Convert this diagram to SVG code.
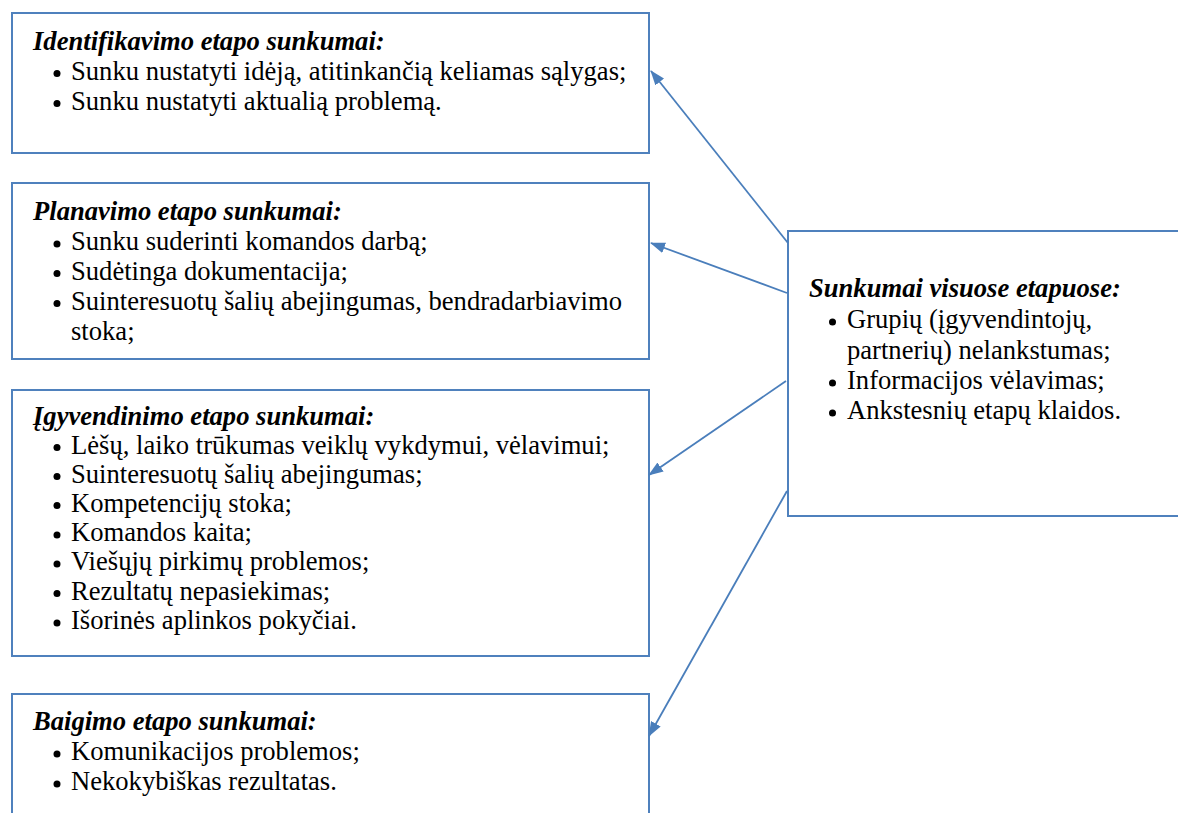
<svg xmlns="http://www.w3.org/2000/svg" width="1178" height="813" viewBox="0 0 1178 813">
<defs>
<style>
.box{fill:#ffffff;stroke:#4f81bd;stroke-width:2}
.t{font-family:'Liberation Serif','Times New Roman',serif;font-size:26.6px;fill:#000}
.h{font-weight:bold;font-style:italic}
.b{fill:#000}
.c{stroke:#4a7ebb;stroke-width:1.8;fill:none;marker-end:url(#ah)}
</style>
<marker id="ah" markerUnits="userSpaceOnUse" markerWidth="15" markerHeight="11" refX="14" refY="5.5" orient="auto">
<path d="M0,0 L15,5.5 L0,11 z" fill="#4a7ebb"/>
</marker>
</defs>
<rect width="1178" height="813" fill="#ffffff"/>
<g id="n1">
<rect class="box" x="12" y="13" width="637" height="140"/>
<text class="t h" x="33" y="50">Identifikavimo etapo sunkumai:</text>
<circle class="b" cx="57" cy="73.5" r="3.5"/><text class="t" x="71" y="79.5">Sunku nustatyti idėją, atitinkančią keliamas sąlygas;</text>
<circle class="b" cx="57" cy="103.5" r="3.5"/><text class="t" x="71" y="109.5">Sunku nustatyti aktualią problemą.</text>
</g>
<g id="n2">
<rect class="box" x="12" y="183" width="637" height="176"/>
<text class="t h" x="33" y="219.5">Planavimo etapo sunkumai:</text>
<circle class="b" cx="57" cy="244" r="3.5"/><text class="t" x="71" y="250">Sunku suderinti komandos darbą;</text>
<circle class="b" cx="57" cy="273.5" r="3.5"/><text class="t" x="71" y="279.5">Sudėtinga dokumentacija;</text>
<circle class="b" cx="57" cy="303.5" r="3.5"/><text class="t" x="71" y="309.5">Suinteresuotų šalių abejingumas, bendradarbiavimo</text>
<text class="t" x="71" y="339.5">stoka;</text>
</g>
<g id="n3">
<rect class="box" x="12" y="390" width="637" height="266"/>
<text class="t h" x="33" y="424.5">Įgyvendinimo etapo sunkumai:</text>
<circle class="b" cx="57" cy="447.5" r="3.5"/><text class="t" x="71" y="453.5">Lėšų, laiko trūkumas veiklų vykdymui, vėlavimui;</text>
<circle class="b" cx="57" cy="476.5" r="3.5"/><text class="t" x="71" y="482.5">Suinteresuotų šalių abejingumas;</text>
<circle class="b" cx="57" cy="505.5" r="3.5"/><text class="t" x="71" y="511.5">Kompetencijų stoka;</text>
<circle class="b" cx="57" cy="535" r="3.5"/><text class="t" x="71" y="541">Komandos kaita;</text>
<circle class="b" cx="57" cy="564" r="3.5"/><text class="t" x="71" y="570">Viešųjų pirkimų problemos;</text>
<circle class="b" cx="57" cy="593.5" r="3.5"/><text class="t" x="71" y="599.5">Rezultatų nepasiekimas;</text>
<circle class="b" cx="57" cy="623" r="3.5"/><text class="t" x="71" y="629">Išorinės aplinkos pokyčiai.</text>
</g>
<g id="n4">
<rect class="box" x="12" y="694" width="637" height="140"/>
<text class="t h" x="33" y="729.5">Baigimo etapo sunkumai:</text>
<circle class="b" cx="57" cy="754" r="3.5"/><text class="t" x="71" y="760">Komunikacijos problemos;</text>
<circle class="b" cx="57" cy="784" r="3.5"/><text class="t" x="71" y="790">Nekokybiškas rezultatas.</text>
</g>
<g id="n5">
<rect class="box" x="788" y="231" width="420" height="285"/>
<text class="t h" x="809" y="297">Sunkumai visuose etapuose:</text>
<circle class="b" cx="832.5" cy="322" r="3.5"/><text class="t" x="847" y="328">Grupių (įgyvendintojų,</text>
<text class="t" x="847" y="358.5">partnerių) nelankstumas;</text>
<circle class="b" cx="832.5" cy="383" r="3.5"/><text class="t" x="847" y="389">Informacijos vėlavimas;</text>
<circle class="b" cx="832.5" cy="413" r="3.5"/><text class="t" x="847" y="419">Ankstesnių etapų klaidos.</text>
</g>
<g id="connectors">
<line class="c" x1="788" y1="243" x2="651" y2="71"/>
<line class="c" x1="787" y1="293" x2="651" y2="243"/>
<line class="c" x1="786" y1="381" x2="649" y2="475"/>
<line class="c" x1="787" y1="491" x2="649" y2="736"/>
</g>
</svg>
